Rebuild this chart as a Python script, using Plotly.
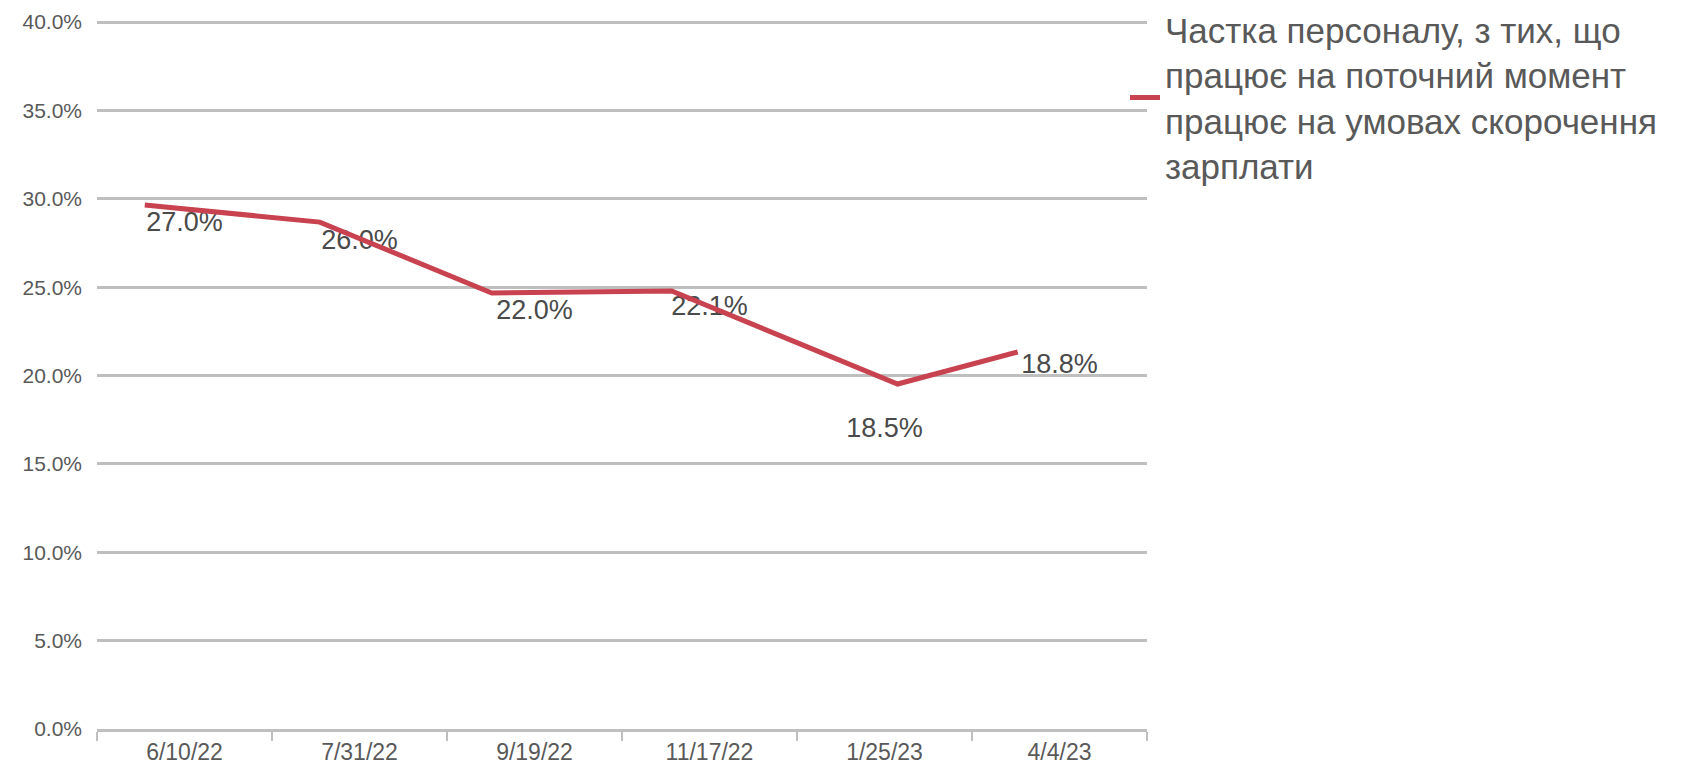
import plotly.graph_objects as go

# Category labels of the x axis
categories = ["6/10/22", "7/31/22", "9/19/22", "11/17/22", "1/25/23", "4/4/23"]

# Line series as drawn (position in category units, value in %)
line_pos = [-0.227, 0.773, 1.756, 2.784, 4.075, 4.761]
line_values = [29.65, 28.68, 24.67, 24.78, 19.52, 21.33]

# Data labels as printed on the chart and the height (in %) where each sits
label_text = ["27.0%", "26.0%", "22.0%", "22.1%", "18.5%", "18.8%"]
label_y = [28.57, 27.55, 23.6, 23.8, 16.9, 20.5]

y_ticks = [0, 5, 10, 15, 20, 25, 30, 35, 40]
y_ticktext = [f"{v:.1f}%" for v in y_ticks]

series_name = ("Частка персоналу, з тих, що<br>працює на поточний момент<br>"
               "працює на умовах скорочення<br>зарплати")

GRID = "#bfbfbf"
TEXT = "#595959"
RED = "#c8434f"

fig = go.Figure()

fig.add_trace(go.Scatter(
    x=line_pos, y=line_values, xaxis="x2", yaxis="y",
    mode="lines", name=series_name,
    line=dict(color=RED, width=5),
    showlegend=True,
))

fig.add_trace(go.Scatter(
    x=categories, y=label_y, xaxis="x", yaxis="y",
    mode="text", text=label_text, textposition="middle center",
    textfont=dict(family="Liberation Sans, Arial, sans-serif", size=27, color="#4a4a4a"),
    showlegend=False, hoverinfo="skip",
))

fig.update_layout(
    width=1694, height=767,
    margin=dict(l=97, r=547, t=21, b=38, autoexpand=False),
    paper_bgcolor="white", plot_bgcolor="white",
    font=dict(family="Liberation Sans, Arial, sans-serif", color=TEXT),
    xaxis=dict(
        type="category", categoryorder="array", categoryarray=categories,
        range=[-0.5, len(categories) - 0.5],
        tickson="boundaries", ticks="outside", ticklen=9, tickwidth=2, tickcolor=GRID,
        showline=True, linecolor=GRID, linewidth=3,
        showgrid=False, zeroline=False,
        tickfont=dict(size=23, color=TEXT),
    ),
    xaxis2=dict(
        overlaying="x", range=[-0.5, len(categories) - 0.5],
        visible=False, showgrid=False, zeroline=False,
    ),
    yaxis=dict(
        range=[0, 40.06], tickvals=y_ticks, ticktext=y_ticktext,
        showgrid=True, gridcolor=GRID, gridwidth=3,
        zeroline=False, showline=False, ticks="",
        ticklabelstandoff=14,
        tickfont=dict(size=21, color=TEXT),
    ),
    legend=dict(
        xref="container", yref="container",
        x=1125 / 1694, y=1 - 0 / 767, xanchor="left", yanchor="top",
        font=dict(size=35, color=TEXT),
        valign="middle", itemwidth=30,
        bgcolor="rgba(0,0,0,0)",
    ),
)

fig.write_html(
    "out.html",
    config={"displayModeBar": False},
    post_script="document.body.style.margin='0';document.body.style.overflow='hidden';",
)
